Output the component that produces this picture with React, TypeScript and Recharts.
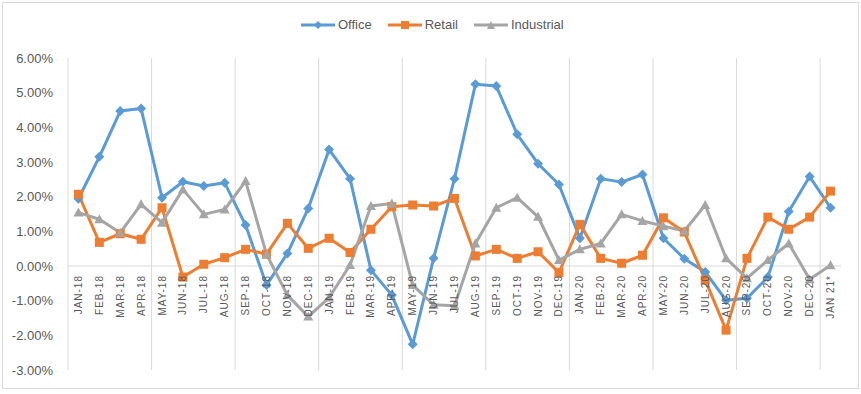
import { LineChart, Line, XAxis, YAxis, ReferenceLine } from "recharts";

const months = [
  "JAN-18", "FEB-18", "MAR-18", "APR-18", "MAY-18", "JUN-18", "JUL-18", "AUG-18",
  "SEP-18", "OCT-18", "NOV-18", "DEC-18", "JAN-19", "FEB-19", "MAR-19", "APR-19",
  "MAY-19", "JUN-19", "JUL-19", "AUG-19", "SEP-19", "OCT-19", "NOV-19", "DEC-19",
  "JAN-20", "FEB-20", "MAR-20", "APR-20", "MAY-20", "JUN-20", "JUL-20", "AUG-20",
  "SEP-20", "OCT-20", "NOV-20", "DEC-20", "JAN 21*",
];

// values in percent
const office = [
  1.94, 3.15, 4.47, 4.54, 1.97, 2.43, 2.31, 2.4, 1.18, -0.55, 0.36, 1.66,
  3.36, 2.52, -0.12, -0.84, -2.26, 0.22, 2.52, 5.24, 5.19, 3.8, 2.95, 2.35,
  0.8, 2.52, 2.42, 2.64, 0.8, 0.21, -0.17, -0.99, -0.93, -0.32, 1.57, 2.58, 1.68,
];
const retail = [
  2.07, 0.68, 0.93, 0.77, 1.68, -0.32, 0.05, 0.24, 0.48, 0.34, 1.23, 0.51,
  0.8, 0.39, 1.06, 1.71, 1.76, 1.73, 1.95, 0.29, 0.48, 0.22, 0.41, -0.19,
  1.2, 0.22, 0.08, 0.31, 1.39, 0.98, -0.4, -1.85, 0.22, 1.41, 1.06, 1.41, 2.16,
];
const industrial = [
  1.54, 1.35, 0.96, 1.78, 1.25, 2.21, 1.49, 1.63, 2.45, 0.34, -0.84, -1.46,
  -0.91, 0.03, 1.73, 1.8, -0.55, -1.12, -1.15, 0.65, 1.68, 1.97, 1.42, 0.17,
  0.48, 0.65, 1.49, 1.3, 1.15, 1.01, 1.76, 0.22, -0.35, 0.17, 0.65, -0.38, 0.02,
];

const yTicks = [-3, -2, -1, 0, 1, 2, 3, 4, 5, 6];
const gridBreaks = [-0.5, 3.5, 7.5, 11.5, 15.5, 19.5, 23.5, 27.5, 31.5, 35.5];

const data = months.map((m, i) => ({
  i,
  label: m,
  office: office[i],
  retail: retail[i],
  industrial: industrial[i],
}));

const BLUE = "#5B9BD5";
const ORANGE = "#ED7D31";
const GRAY = "#A5A5A5";
const TEXT = "#595959";
const GRID = "#D9D9D9";
const FONT = '"Liberation Sans", Arial, sans-serif';

const W = 861;
const H = 394;
const M = { top: 58, right: 20, bottom: 0, left: 0 };
const X_AXIS_H = 24;
const plotH = H - M.top - M.bottom - X_AXIS_H;
const yMin = -3;
const yMax = 6;
// labels hang just under the zero line, as in Excel
const zeroY = M.top + (plotH * yMax) / (yMax - yMin);
const labelTop = zeroY + 9;

function renderMonthTick(props: any) {
  const { x, payload, index } = props;
  const label = months[payload?.value];
  if (label === undefined) return <g key={`m-${index}`} />;
  return (
    <text
      key={`m-${index}`}
      transform={`translate(${x},${labelTop}) rotate(-90)`}
      textAnchor="end"
      dy="0.35em"
      fill={TEXT}
      fontSize={10}
      fontFamily={FONT}
      style={{ letterSpacing: 1 }}
    >
      {label}
    </text>
  );
}

const diamond = (props: any) => {
  const { cx, cy, index } = props;
  const r = 5;
  return (
    <path
      key={`o-${index}`}
      d={`M${cx},${cy - r}L${cx + r},${cy}L${cx},${cy + r}L${cx - r},${cy}Z`}
      fill={BLUE}
    />
  );
};

const square = (props: any) => {
  const { cx, cy, index } = props;
  return <rect key={`r-${index}`} x={cx - 4.5} y={cy - 4.5} width={9} height={9} fill={ORANGE} />;
};

const triangle = (props: any) => {
  const { cx, cy, index } = props;
  return (
    <path
      key={`t-${index}`}
      d={`M${cx},${cy - 5}L${cx + 5},${cy + 4}L${cx - 5},${cy + 4}Z`}
      fill={GRAY}
    />
  );
};

const legendItems = [
  { name: "Office", color: BLUE, shape: "diamond" },
  { name: "Retail", color: ORANGE, shape: "square" },
  { name: "Industrial", color: GRAY, shape: "triangle" },
];

function LegendIcon({ color, shape }: { color: string; shape: string }) {
  return (
    <svg width={34} height={10} style={{ display: "block" }}>
      <line x1={0} y1={5} x2={34} y2={5} stroke={color} strokeWidth={3} />
      {shape === "diamond" && <path d="M17,1L21,5L17,9L13,5Z" fill={color} />}
      {shape === "square" && <rect x={13} y={1} width={8} height={8} fill={color} />}
      {shape === "triangle" && <path d="M17,1L21,9L13,9Z" fill={color} />}
    </svg>
  );
}

export default function App() {
  return (
    <div style={{ position: "relative", width: W, height: H, background: "#fff" }}>
      <style>{"body{margin:0}"}</style>
      <div
        style={{
          position: "absolute",
          left: 2,
          top: 2,
          width: 857,
          height: 387,
          border: `1px solid ${GRID}`,
          boxSizing: "border-box",
        }}
      />
      <div
        style={{
          position: "absolute",
          top: 16,
          left: 301,
          display: "flex",
          alignItems: "center",
          fontFamily: FONT,
          fontSize: 13,
          color: TEXT,
          lineHeight: "18px",
        }}
      >
        {legendItems.map((it) => (
          <div key={it.name} style={{ display: "flex", alignItems: "center", marginRight: 16 }}>
            <LegendIcon color={it.color} shape={it.shape} />
            <span style={{ marginLeft: 3 }}>{it.name}</span>
          </div>
        ))}
      </div>
      <LineChart width={W} height={H} data={data} margin={M} style={{ position: "absolute", left: 0, top: 0 }}>
        <XAxis
          type="number"
          dataKey="i"
          domain={[-0.5, 36.5]}
          ticks={data.map((d) => d.i)}
          interval={0}
          height={X_AXIS_H}
          axisLine={false}
          tickLine={false}
          tick={renderMonthTick}
        />
        <YAxis
          type="number"
          domain={[yMin, yMax]}
          ticks={yTicks}
          width={68}
          axisLine={false}
          tickLine={false}
          tickSize={0}
          tickMargin={15}
          tick={{ fill: TEXT, fontSize: 13, fontFamily: FONT }}
          tickFormatter={(v: number) => `${v.toFixed(2)}%`}
        />
        {gridBreaks.map((g) => (
          <ReferenceLine key={g} x={g} stroke={GRID} strokeWidth={1} />
        ))}
        <ReferenceLine y={0} stroke={GRID} strokeWidth={1} />
        <Line
          type="linear"
          dataKey="office"
          name="Office"
          stroke={BLUE}
          strokeWidth={3}
          strokeLinejoin="round"
          dot={diamond}
          activeDot={false}
          isAnimationActive={false}
        />
        <Line
          type="linear"
          dataKey="retail"
          name="Retail"
          stroke={ORANGE}
          strokeWidth={3}
          strokeLinejoin="round"
          dot={square}
          activeDot={false}
          isAnimationActive={false}
        />
        <Line
          type="linear"
          dataKey="industrial"
          name="Industrial"
          stroke={GRAY}
          strokeWidth={3}
          strokeLinejoin="round"
          dot={triangle}
          activeDot={false}
          isAnimationActive={false}
        />
      </LineChart>
    </div>
  );
}
